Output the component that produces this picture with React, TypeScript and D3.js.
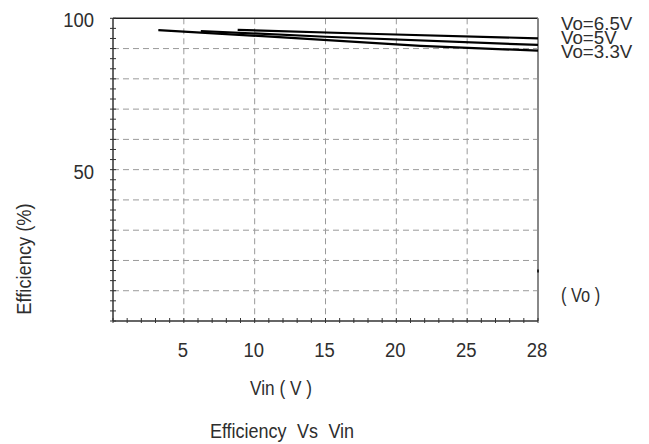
import React from "react";
import { scaleLinear, line, range } from "d3";

// axis labels (the datasheet axis is not linear past 25 V)
const vinTicks = [5, 10, 15, 20, 25, 28];
const effGrid = [10, 20, 30, 40, 50, 60, 70, 80, 90];
const effLabels = [50, 100];

// efficiency curves
const vin33 = [3.2, 12, 21.7, 28];
const eff33 = [96.1, 93.7, 90.9, 89.3];
const vin5 = [6.2, 15, 28];
const eff5 = [95.8, 93.9, 91.2];
const vin65 = [8.8, 18, 28];
const eff65 = [96.2, 94.9, 93.4];

const seriesLabels = ["Vo=6.5V", "Vo=5V", "Vo=3.3V"];

const W = 649;
const H = 444;
const left = 113;
const right = 538;
const top = 18.3;
const bottom = 321;

const font = "'Liberation Sans', Arial, sans-serif";
const ink = "#2e2e2e";

// condensed look: Liberation Sans squeezed horizontally
const Label: React.FC<{
    x: number;
    y: number;
    size: number;
    sx?: number;
    rotate?: number;
    anchor?: "start" | "middle" | "end";
    wordSpacing?: number;
    children: React.ReactNode;
}> = ({ x, y, size, sx = 0.86, rotate = 0, anchor = "start", wordSpacing, children }) => (
    <text
        transform={`translate(${x},${y}) rotate(${rotate}) scale(${sx},1)`}
        textAnchor={anchor}
        fontSize={size}
        fill={ink}
        style={wordSpacing ? { wordSpacing: wordSpacing + "px" } : undefined}
    >
        {children}
    </text>
);

const App: React.FC = () => {
    // 0..25 is linear, 25..28 takes one full grid cell
    const x = scaleLinear()
        .domain([0, 25, 28])
        .range([left, left + ((right - left) * 5) / 6, right]);
    const y = scaleLinear().domain([0, 100]).range([bottom, top]);

    const curve = line<[number, number]>()
        .x(d => x(d[0]))
        .y(d => y(d[1]));

    const zip = (a: number[], b: number[]) =>
        a.map((v, i) => [v, b[i]] as [number, number]);
    const curves = [zip(vin65, eff65), zip(vin5, eff5), zip(vin33, eff33)];

    // minor ticks: 5 per cell on x, 3 per cell on y
    const xMinor = range(0, 25, 1).concat(range(25, 28.01, 0.6));
    const yMinor = range(0, 100.01, 10 / 3);

    return (
        <svg
            width={W}
            height={H}
            style={{ position: "absolute", left: 0, top: 0, background: "#fff" }}
            fontFamily={font}
        >
            {/* grid */}
            {effGrid.map(v => (
                <line
                    key={"gy" + v}
                    x1={left}
                    x2={right}
                    y1={y(v)}
                    y2={y(v)}
                    stroke="#9a9a9a"
                    strokeWidth={1}
                    strokeDasharray="6,4"
                />
            ))}
            {vinTicks.slice(0, -1).map(v => (
                <line
                    key={"gx" + v}
                    x1={x(v)}
                    x2={x(v)}
                    y1={top}
                    y2={bottom}
                    stroke="#9a9a9a"
                    strokeWidth={1}
                    strokeDasharray="6,4"
                />
            ))}

            {/* frame */}
            <line x1={left} x2={right} y1={top} y2={top} stroke="#222" strokeWidth={1.5} />
            <line x1={right} x2={right} y1={top} y2={bottom} stroke="#888" strokeWidth={2} />
            <line x1={left} x2={left} y1={top} y2={bottom} stroke="#333" strokeWidth={1.5} />
            <line x1={left} x2={right} y1={bottom} y2={bottom} stroke="#333" strokeWidth={1.5} />
            <line x1={right} x2={right} y1={y(17)} y2={y(16)} stroke="#222" strokeWidth={2} />

            {/* minor ticks */}
            {yMinor.map((v, i) => (
                <line key={"ty" + i} x1={left - 3} x2={left + 3} y1={y(v)} y2={y(v)} stroke="#333" strokeWidth={1} />
            ))}
            {xMinor.map((v, i) => (
                <line key={"tx" + i} x1={x(v)} x2={x(v)} y1={bottom - 3} y2={bottom + 2} stroke="#333" strokeWidth={1} />
            ))}

            {/* curves */}
            {curves.map((c, i) => (
                <path key={"c" + i} d={curve(c) ?? ""} fill="none" stroke="#000" strokeWidth={2.2} />
            ))}

            {/* tick labels */}
            {effLabels.map(v => (
                <Label key={"ly" + v} x={left - 19} y={y(v) + 9} size={21} sx={0.88} anchor="end">
                    {v}
                </Label>
            ))}
            {vinTicks.map(v => (
                <Label key={"lx" + v} x={x(v) - 1} y={357} size={21} sx={0.88} anchor="middle">
                    {v}
                </Label>
            ))}

            {/* series labels */}
            {seriesLabels.map((s, i) => (
                <Label key={s} x={561} y={30 + i * 14} size={18} sx={1.04}>
                    {s}
                </Label>
            ))}
            <Label x={561} y={302} size={20} sx={0.82}>
                ( Vo )
            </Label>

            {/* axis titles */}
            <Label x={281} y={395} size={21} sx={0.82} anchor="middle">
                Vin ( V )
            </Label>
            <Label x={31} y={259} size={21} sx={0.87} rotate={-90} anchor="middle">
                Efficiency (%)
            </Label>
            <Label x={282} y={438} size={20} sx={0.9} anchor="middle" wordSpacing={6}>
                Efficiency Vs Vin
            </Label>
        </svg>
    );
};

export default App;
